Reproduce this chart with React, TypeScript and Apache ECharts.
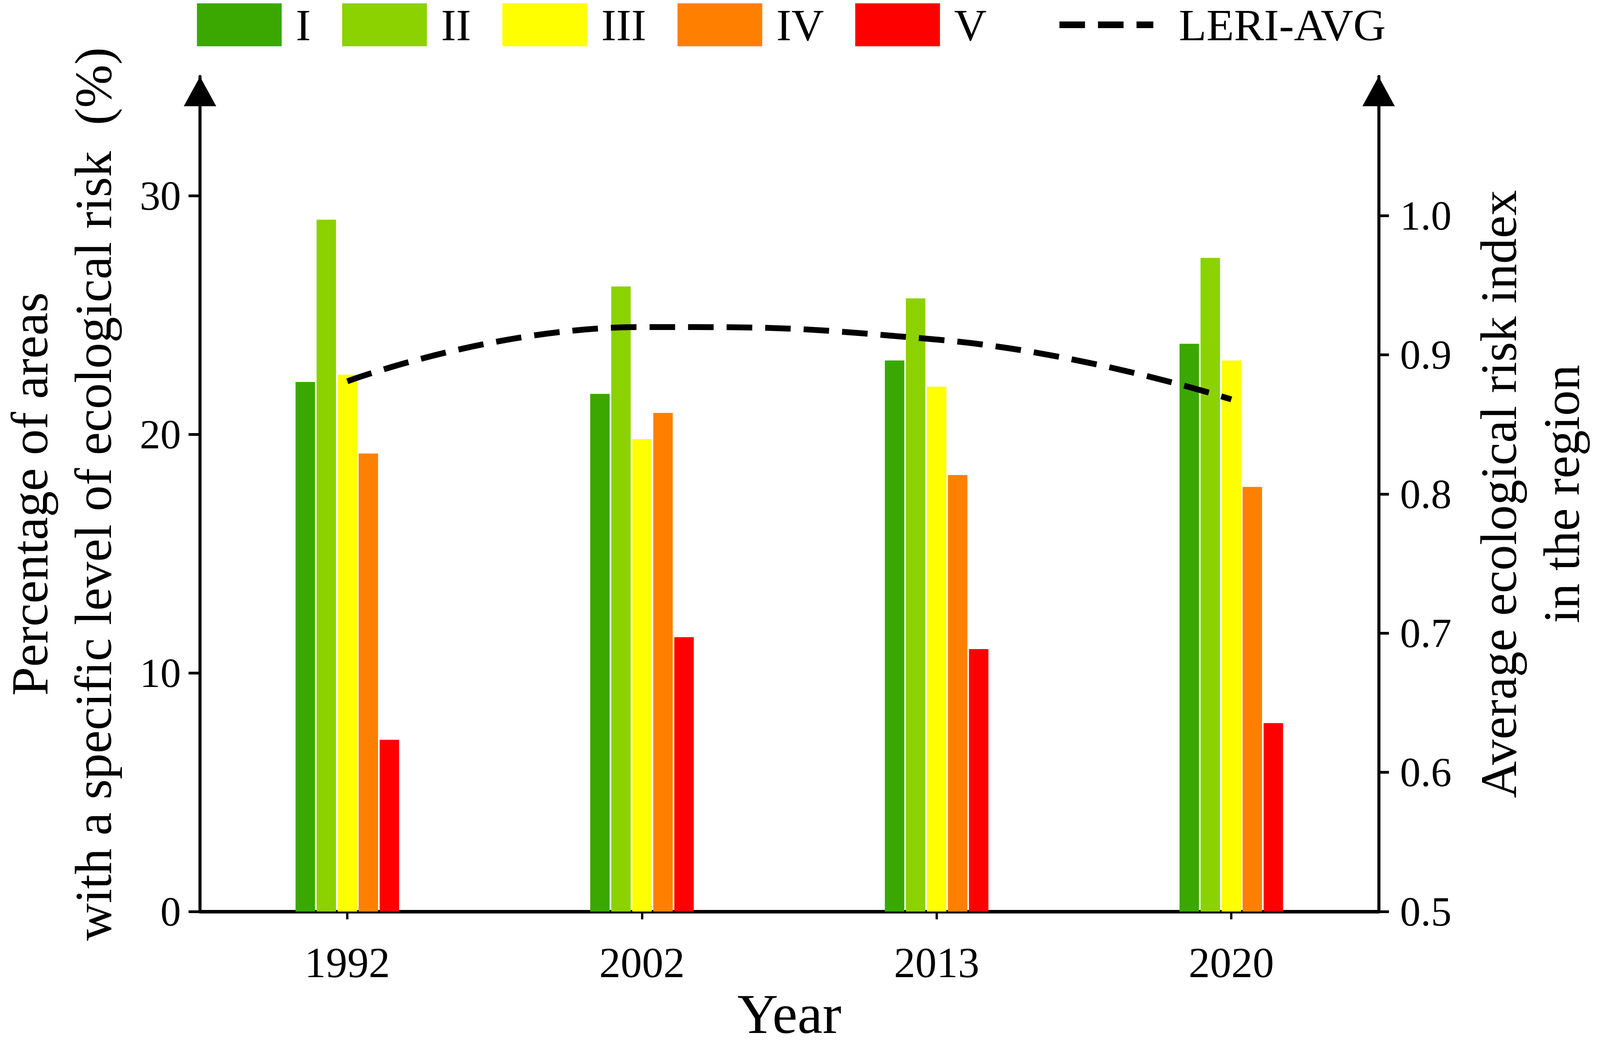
import React, { useEffect, useRef } from "react";
import * as echarts from "echarts";

const years = ["1992", "2002", "2013", "2020"];
const levelNames = ["I", "II", "III", "IV", "V"];
const levelColors = ["#3aa800", "#8bd200", "#ffff00", "#ff8000", "#ff0000"];
const levelI = [22.2, 21.7, 23.1, 23.8];
const levelII = [29.0, 26.2, 25.7, 27.4];
const levelIII = [22.5, 19.8, 22.0, 23.1];
const levelIV = [19.2, 20.9, 18.3, 17.8];
const levelV = [7.2, 11.5, 11.0, 7.9];
const leriName = "LERI-AVG";
const leriAvg = [0.881, 0.92, 0.911, 0.868];
const leftTicks = [0, 10, 20, 30];
const rightTicks = [0.5, 0.6, 0.7, 0.8, 0.9, 1.0];

const FONT = "'Liberation Serif', 'Times New Roman', serif";
const REF_W = 4192;
const REF_H = 2686;

export default function App() {
  const ref = useRef<HTMLDivElement>(null);
  useEffect(() => {
    const el = ref.current;
    if (!el) return;
    const W = el.clientWidth || REF_W;
    const H = el.clientHeight || REF_H;
    const sx = W / REF_W;
    const sy = H / REF_H;
    const fs = Math.min(sx, sy);
    const X = (v: number) => v * sx;
    const Y = (v: number) => v * sy;
    const F = (v: number) => v * fs;
    const DASH = [X(67), X(34)];

    const chart = echarts.init(el, null, { renderer: "svg" });
    const levels = [levelI, levelII, levelIII, levelIV, levelV];
    const barSeries = levels.map((vals, i) => ({
      name: levelNames[i],
      type: "bar",
      yAxisIndex: 0,
      data: vals,
      barWidth: X(51),
      barGap: "8%",
      itemStyle: { color: levelColors[i] },
    }));
    const axisArrow = {
      show: true,
      symbol: ["none", "triangle"],
      symbolSize: [X(85), Y(76)],
      symbolOffset: [0, -Y(38)],
      lineStyle: { color: "#000", width: X(8) },
    };
    const option = {
      animation: false,
      backgroundColor: "#ffffff",
      textStyle: { fontFamily: FONT, color: "#000" },
      grid: {
        left: X(524),
        right: X(580),
        top: Y(196),
        bottom: Y(352),
        containLabel: false,
        outerBoundsMode: "none",
      },
      legend: [
        {
          data: levelNames,
          icon: "rect",
          left: X(516),
          top: Y(6),
          padding: 0,
          itemWidth: X(222),
          itemHeight: Y(110),
          itemGap: X(82),
          textStyle: {
            fontFamily: FONT,
            fontSize: F(118),
            color: "#000",
            padding: [0, 0, 0, X(32)],
          },
        },
        {
          data: [leriName],
          left: X(2767),
          top: Y(6),
          padding: 0,
          itemWidth: X(246),
          itemHeight: Y(110),
          itemStyle: { opacity: 0 },
          lineStyle: { width: Y(17), type: DASH, color: "#000", cap: "butt" },
          textStyle: {
            fontFamily: FONT,
            fontSize: F(118),
            color: "#000",
            padding: [0, 0, 0, X(62)],
          },
        },
      ],
      xAxis: {
        type: "category",
        data: years,
        boundaryGap: true,
        name: "Year",
        nameLocation: "middle",
        nameGap: Y(204),
        nameTextStyle: {
          fontFamily: FONT,
          fontSize: F(148),
          lineHeight: Y(110),
          color: "#000",
        },
        axisLine: { show: true, lineStyle: { color: "#000", width: Y(9) } },
        axisTick: {
          show: true,
          alignWithLabel: true,
          length: Y(20),
          lineStyle: { color: "#000", width: X(6) },
        },
        axisLabel: {
          fontFamily: FONT,
          fontSize: F(112),
          color: "#000",
          margin: Y(76),
        },
        splitLine: { show: false },
      },
      yAxis: [
        {
          type: "value",
          position: "left",
          min: 0,
          max: 35,
          name: "Percentage of areas\nwith a specific level of ecological risk  (%)",
          nameLocation: "middle",
          nameRotate: 90,
          nameGap: X(195),
          nameTextStyle: {
            fontFamily: FONT,
            fontSize: F(136),
            lineHeight: X(167),
            color: "#000",
            align: "center",
          },
          axisLine: axisArrow,
          axisTick: {
            show: true,
            length: X(30),
            customValues: leftTicks,
            lineStyle: { color: "#000", width: Y(7) },
          },
          axisLabel: {
            customValues: leftTicks,
            fontFamily: FONT,
            fontSize: F(108),
            color: "#000",
            margin: X(50),
          },
          splitLine: { show: false },
        },
        {
          type: "value",
          position: "right",
          min: 0.5,
          max: 1.1,
          name: "Average ecological risk index\nin the region",
          nameLocation: "middle",
          nameRotate: 90,
          nameGap: X(232),
          nameTextStyle: {
            fontFamily: FONT,
            fontSize: F(134),
            lineHeight: X(165),
            color: "#000",
            align: "center",
          },
          axisLine: axisArrow,
          axisTick: {
            show: true,
            length: X(27),
            customValues: rightTicks,
            lineStyle: { color: "#000", width: Y(7) },
          },
          axisLabel: {
            customValues: rightTicks,
            fontFamily: FONT,
            fontSize: F(108),
            color: "#000",
            margin: X(56),
            formatter: (v: number) => v.toFixed(1),
          },
          splitLine: { show: false },
        },
      ],
      series: [
        ...barSeries,
        {
          name: leriName,
          type: "line",
          yAxisIndex: 1,
          data: leriAvg,
          smooth: 0.5,
          symbol: "none",
          z: 5,
          lineStyle: { color: "#000", width: Y(15), type: DASH, cap: "butt" },
          itemStyle: { color: "#000" },
        },
      ],
    };
    chart.setOption(option as any);
    return () => chart.dispose();
  }, []);
  return (
    <div
      ref={ref}
      style={{
        position: "fixed",
        left: 0,
        top: 0,
        width: "100vw",
        height: "100vh",
        background: "#fff",
      }}
    />
  );
}
